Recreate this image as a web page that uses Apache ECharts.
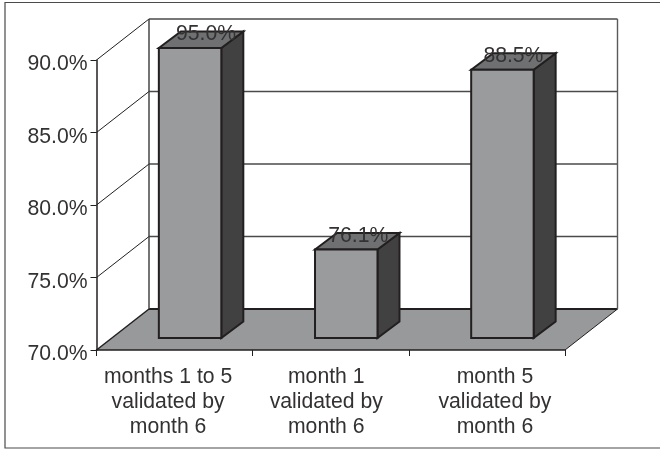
<!DOCTYPE html>
<html><head><meta charset="utf-8">
<style>html,body{margin:0;padding:0;background:#fff}#c{width:660px;height:449px}</style>
<script src="https://cdn.jsdelivr.net/npm/echarts@6/dist/echarts.min.js"></script>
</head><body><div id="c"></div>
<script>
const categories = ['months 1 to 5\nvalidated by\nmonth 6', 'month 1\nvalidated by\nmonth 6', 'month 5\nvalidated by\nmonth 6'];
const values = [95.0, 76.1, 88.5];
const yTicks = [70, 75, 80, 85, 90];
const yMin = 70, yMax = 90, yStep = 5;

const FONT = '"Liberation Sans", Arial, sans-serif';
const TEXT = '#333132', EDGE = '#231f20';
const FS = 21.2;
const WALL = {dx: 52.5, dy: -41};
const FRONT = {dx: 15.5, dy: -12};
const DEPTH = {dx: 22, dy: -16.5};
const labelPads = [[0, 13, 0, 0], [0, 9, 0, 0], [0, 0, 0, 16]];
const valueShift = [16, 12, 11];

function line(x1, y1, x2, y2, stroke, w) {
  return {type: 'line', shape: {x1, y1, x2, y2}, style: {stroke, lineWidth: w, fill: null}};
}
function poly(points, fill, stroke, w) {
  return {type: 'polygon', shape: {points}, style: {fill, stroke: stroke || null, lineWidth: w || 0, lineJoin: 'miter'}};
}
function renderWall(params, api) {
  const t = api.value(1);
  const p = api.coord([0, t]);
  const right = api.coord([categories.length - 1, t])[0] + api.size([1, 0])[0] / 2;
  const x0 = p[0] - api.size([1, 0])[0] / 2;
  const bx = x0 + WALL.dx, by = p[1] + WALL.dy, rx = right + WALL.dx;
  const children = [];
  if (t === yMin) {
    children.push(poly([[x0, p[1]], [bx, by], [rx, by], [right, p[1]]], '#98999b'));
    children.push(line(bx, by, rx, by, EDGE, 2));
    children.push(line(x0, p[1], bx, by, EDGE, 1.5));
    children.push(line(right, p[1], rx, by, EDGE, 1));
  } else {
    children.push(line(x0, p[1], bx, by, EDGE, 1));
    children.push(line(bx, by, rx, by, '#4a4a4a', 1.6));
  }
  if (t === yMax) {
    const fl = api.coord([0, yMin])[1] + WALL.dy;
    children.push(line(bx, by, bx, fl, '#3a3a3a', 1.4));
    children.push(line(rx, by, rx, fl, '#5a5a5a', 1.4));
  }
  return {type: 'group', children};
}
function renderBar(params, api) {
  const i = api.value(0), v = api.value(1);
  const band = api.size([1, 0])[0];
  const w = band * 0.4;
  const c = api.coord([i, Math.min(v, yMax)]);
  const b = api.coord([i, yMin]);
  const l = c[0] - w / 2 + FRONT.dx, r = l + w;
  const top = c[1] + FRONT.dy, bot = b[1] + FRONT.dy;
  const s = {dx: DEPTH.dx, dy: DEPTH.dy};
  return {type: 'group', children: [
    poly([[r, top], [r + s.dx, top + s.dy], [r + s.dx, bot + s.dy], [r, bot]], '#414142', EDGE, 2),
    poly([[l, top], [l + s.dx, top + s.dy], [r + s.dx, top + s.dy], [r, top]], '#6f7071', EDGE, 2),
    poly([[l, top], [r, top], [r, bot], [l, bot]], '#9a9b9d', EDGE, 2),
    {type: 'text', x: (l + r) / 2 + valueShift[i], y: top - 13.5, style: {
      text: v.toFixed(1) + '%', font: FS + 'px ' + FONT, fill: TEXT, align: 'center', verticalAlign: 'middle'
    }}
  ]};
}

const chart = echarts.init(document.getElementById('c'), null, {renderer: 'canvas'});
chart.setOption({
  animation: false,
  backgroundColor: '#fff',
  graphic: [{type: 'rect', z: -1, shape: {x: 5, y: 2.5, width: 700, height: 445.5},
    style: {fill: '#fff', stroke: '#4a4a4a', lineWidth: 1.2}}],
  grid: {left: 96.5, right: 95, top: 60, bottom: 99},
  xAxis: {
    type: 'category', z: 5,
    data: categories.map((value, i) => ({value, textStyle: {padding: labelPads[i]}})),
    axisLine: {onZero: false, lineStyle: {color: EDGE, width: 1.5}},
    axisTick: {show: true, alignWithLabel: false, length: 6, lineStyle: {color: EDGE, width: 1}},
    axisLabel: {interval: 0, margin: 14, color: TEXT, fontFamily: FONT, fontSize: FS, lineHeight: 25.3},
    splitLine: {show: false}
  },
  yAxis: {
    type: 'value', z: 5, min: yMin, max: yMax, interval: yStep,
    axisLine: {show: true, lineStyle: {color: EDGE, width: 1.5}},
    axisTick: {show: true, length: 6, lineStyle: {color: EDGE, width: 1}},
    axisLabel: {margin: 9, color: TEXT, fontFamily: FONT, fontSize: FS, verticalAlign: 'top', padding: [-6, 0, 0, 0],
      formatter: v => v.toFixed(1) + '%'},
    splitLine: {show: false}
  },
  series: [
    {type: 'custom', z: 1, silent: true, renderItem: renderWall, data: yTicks.map(t => [0, t])},
    {type: 'custom', z: 3, silent: true, renderItem: renderBar, data: values.map((v, i) => [i, v])}
  ]
});
</script></body></html>
